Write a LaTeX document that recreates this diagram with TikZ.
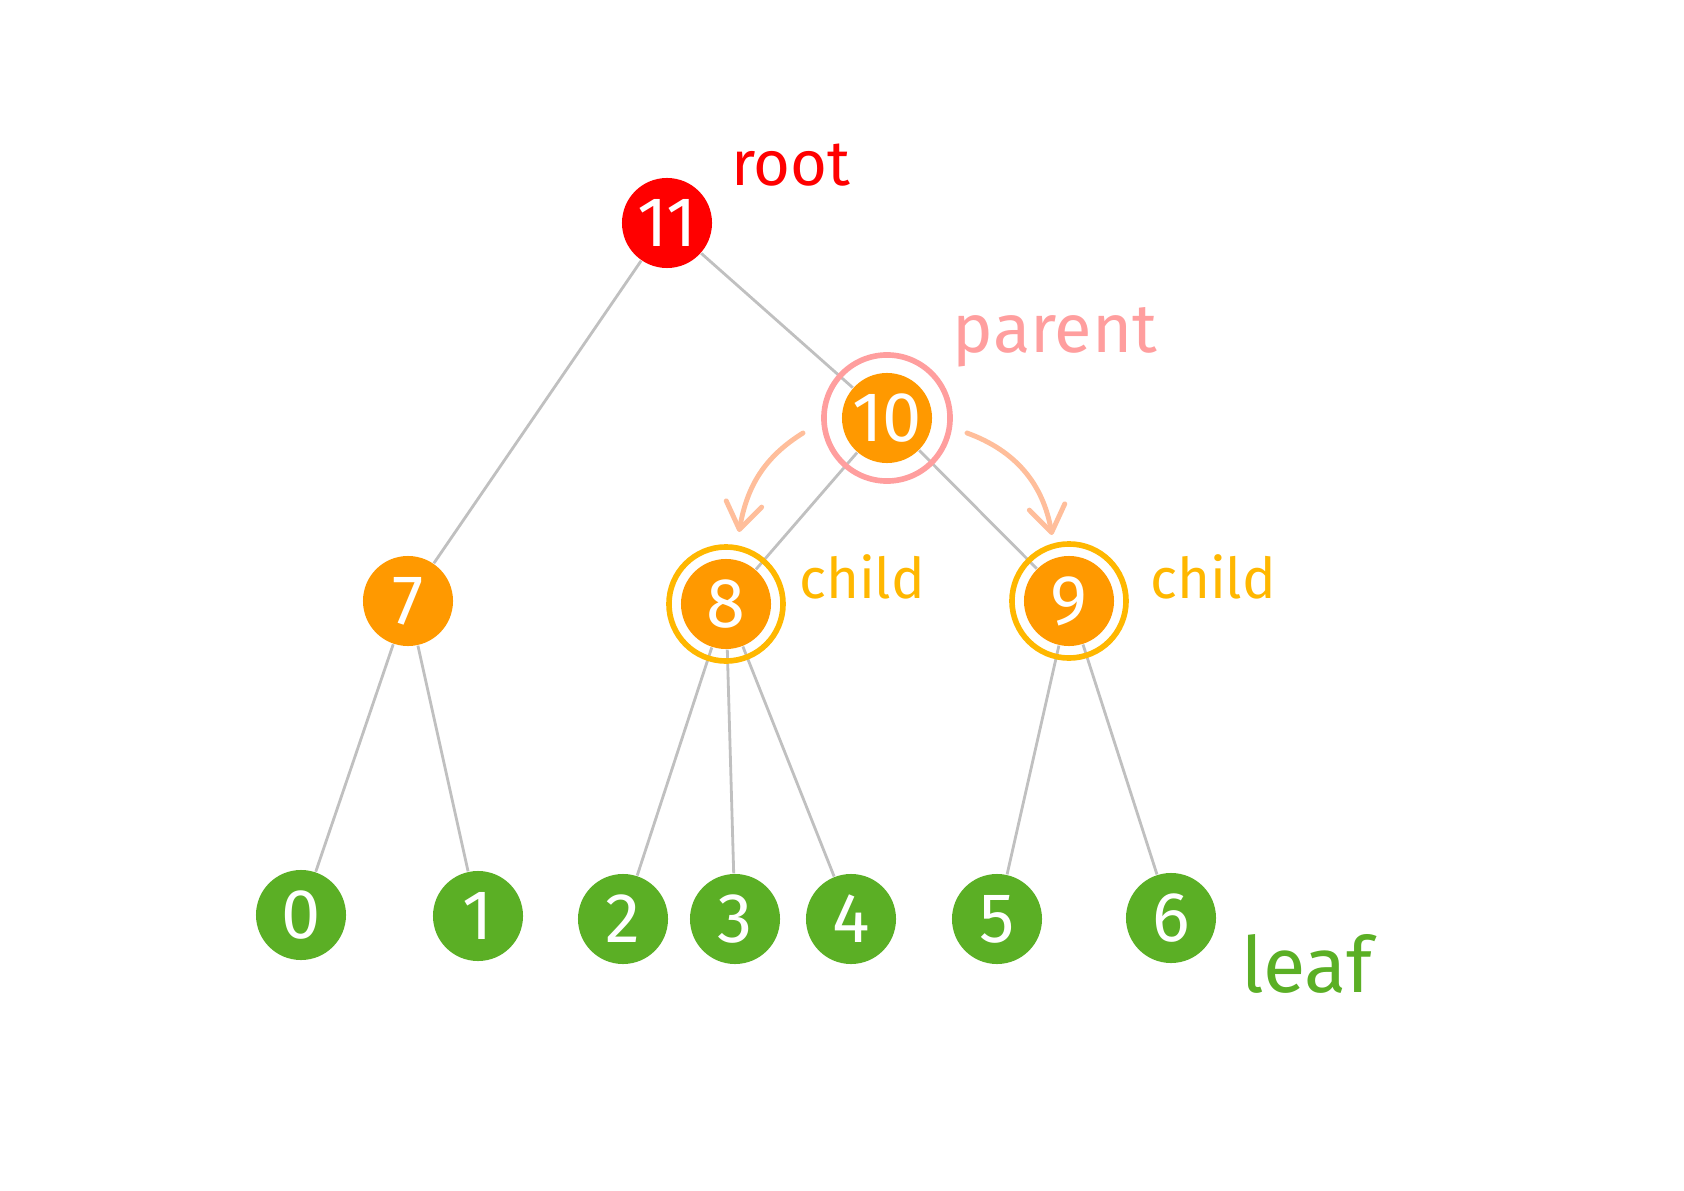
\documentclass[tikz,border=0pt]{standalone}
\usepackage{fontspec}
\setmainfont{Fira Sans}
\usepackage{tikz}
\usetikzlibrary{arrows.meta,positioning}
\usepackage{xcolor}
\definecolor{rootred}{RGB}{255,0,0}
\definecolor{innerorange}{RGB}{255,153,0}
\definecolor{leafgreen}{RGB}{91,175,37}
\definecolor{parentpink}{RGB}{255,158,158}
\definecolor{childyellow}{RGB}{255,183,0}
\definecolor{arrowpeach}{RGB}{255,190,155}
\definecolor{edgegray}{RGB}{192,192,192}

\begin{document}
\begin{tikzpicture}[
    x=0.01cm, y=0.01cm,
    tnode/.style={circle, fill=#1, minimum size=0.9cm, inner sep=0pt, text=white, font=\fontsize{20}{20}\selectfont},
    ring/.style={draw=#1, line width=1.6pt},
    edge/.style={draw=edgegray, line width=0.8pt},
    arrow/.style={-{Straight Barb[length=2.6mm,width=3.6mm,round]}, draw=arrowpeach, line width=1.4pt, line cap=round},
    lbl/.style={text=#1, inner sep=0pt, anchor=base}
]
\useasboundingbox (0,0) rectangle (1684,-1191);

% Root and inner nodes
\node[tnode=rootred] (n11) at (667,-223) {11};
\node[tnode=innerorange] (n10) at (887,-418) {10};
\node[tnode=innerorange] (n7) at (408,-601) {7};
\node[tnode=innerorange] (n8) at (726,-604) {8};
\node[tnode=innerorange] (n9) at (1069,-601) {9};

% Leaves
\node[tnode=leafgreen] (n0) at (301,-915) {0};
\node[tnode=leafgreen] (n1) at (478,-916) {1};
\node[tnode=leafgreen] (n2) at (623,-919) {2};
\node[tnode=leafgreen] (n3) at (735,-919) {3};
\node[tnode=leafgreen] (n4) at (851,-919) {4};
\node[tnode=leafgreen] (n5) at (997,-919) {5};
\node[tnode=leafgreen] (n6) at (1171,-918) {6};

% Edges
\draw[edge] (n11) -- (n7);
\draw[edge] (n11) -- (n10);
\draw[edge] (n10) -- (n8);
\draw[edge] (n10) -- (n9);
\draw[edge] (n7) -- (n0);
\draw[edge] (n7) -- (n1);
\draw[edge] (n8) -- (n2);
\draw[edge] (n8) -- (n3);
\draw[edge] (n8) -- (n4);
\draw[edge] (n9) -- (n5);
\draw[edge] (n9) -- (n6);

% Rings
\draw[ring=parentpink] (n10.center) circle[radius=0.63cm];
\draw[ring=childyellow] (n8.center) circle[radius=0.57cm];
\draw[ring=childyellow] (n9.center) circle[radius=0.57cm];

% Parent to child arrows
\coordinate (lstart) at (803,-433);
\coordinate (lend) at (739,-532);
\coordinate (rstart) at (967,-433);
\coordinate (rend) at (1052,-535);
\draw[arrow] (lstart) to[out=212, in=80] (lend);
\draw[arrow] (rstart) to[out=-20, in=100] (rend);

% Labels
\node[lbl=rootred, font=\fontsize{18}{18}\selectfont] (rootlbl) at (791,-186) {root};
\node[lbl=parentpink, font=\fontsize{19.5}{19.5}\selectfont] (parentlbl) at (1055,-353) {parent};
\node[lbl=childyellow, font=\fontsize{16}{16}\selectfont] (childlbla) at (862,-598) {child};
\node[lbl=childyellow, font=\fontsize{16}{16}\selectfont] (childlblb) at (1213,-598) {child};
\node[lbl=leafgreen, font=\fontsize{22}{22}\selectfont] (leaflbl) at (1307,-992) {leaf};

\end{tikzpicture}
\end{document}
